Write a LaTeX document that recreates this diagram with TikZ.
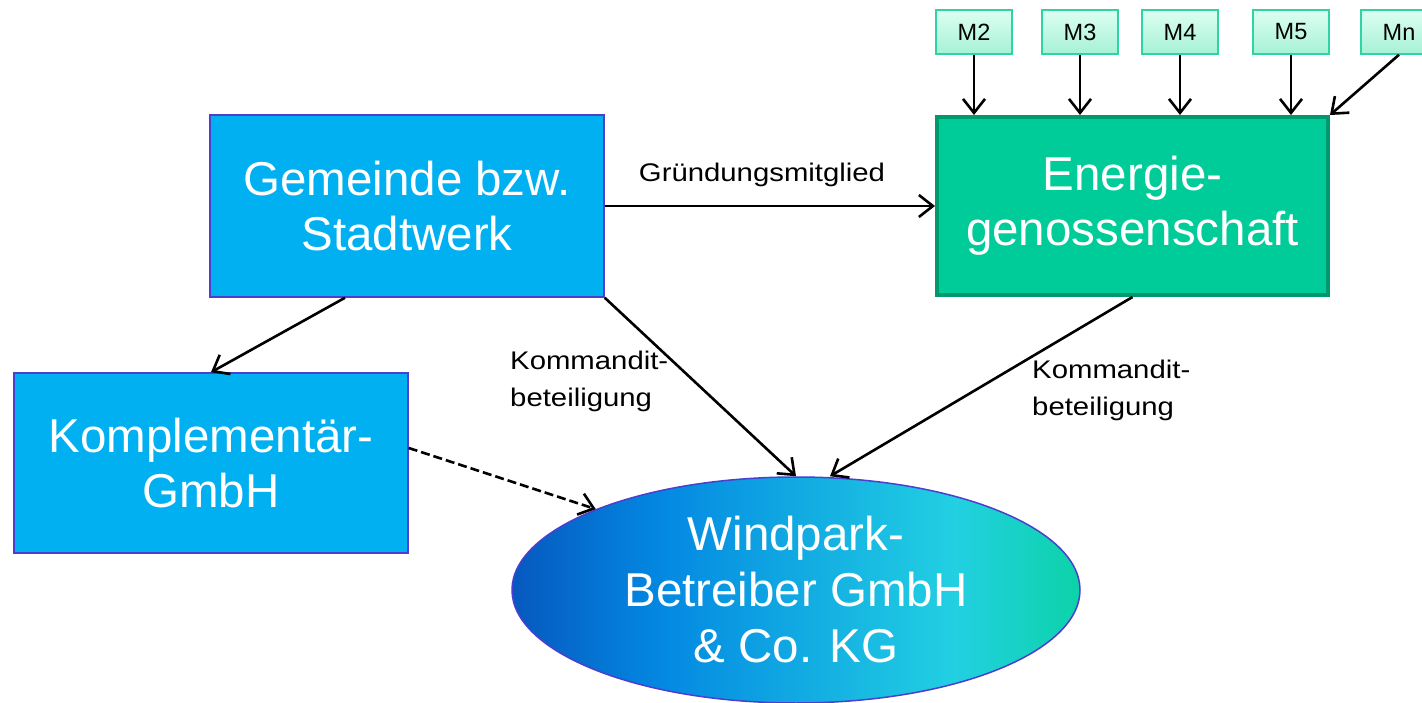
\documentclass[tikz,border=0pt]{standalone}
\usepackage{fontspec}
\setmainfont{Liberation Sans}
\newfontfamily\breitschrift[FakeStretch=1.15]{Liberation Sans}
\usetikzlibrary{arrows.meta,shapes.geometric}
\definecolor{kastenblau}{HTML}{00B0F0}
\definecolor{randblau}{HTML}{4A3FCF}
\definecolor{egfill}{HTML}{00CC99}
\definecolor{egrand}{HTML}{00996E}
\definecolor{mrand}{HTML}{2FD4A4}
\definecolor{moben}{HTML}{DDFFF1}
\definecolor{munten}{HTML}{A6F1D6}
\definecolor{wpA}{HTML}{0658BE}
\definecolor{wpB}{HTML}{0388E2}
\definecolor{wpC}{HTML}{22D0E2}
\definecolor{wpD}{HTML}{0CD3A8}
\pgfdeclarehorizontalshading{windpark}{100bp}{color(0bp)=(wpA); color(25bp)=(wpA); color(38bp)=(wpB); color(64bp)=(wpC); color(75bp)=(wpD); color(100bp)=(wpD)}
\tikzset{
  firma/.style={draw=randblau, line width=1.5pt, fill=kastenblau, text=white, minimum width=394pt, minimum height=182pt, align=center, font=\fontsize{47.5}{55}\selectfont},
  genossen/.style={firma, draw=egrand, line width=4pt, fill=egfill, minimum width=391pt, minimum height=178pt},
  mitglied/.style={draw=mrand, line width=1.5pt, top color=moben, bottom color=munten, minimum width=76pt, minimum height=44pt, inner sep=0pt, font=\fontsize{23.5}{26}\selectfont},
  pfeil/.style={-{Straight Barb[length=14pt,width=22pt]}, line width=2.6pt},
  beschr/.style={font=\breitschrift\fontsize{25.5}{37}\selectfont, align=left, inner sep=0pt}
}
\begin{document}
\begin{tikzpicture}[x=1pt,y=-1pt]
\useasboundingbox (0,0) rectangle (1422,703);
\node[firma] (gemeinde) at (407,206) {Gemeinde bzw.\\Stadtwerk};
\node[genossen] (energie) at (1132.5,206) {Energie-\\genossenschaft};
\node[firma, minimum height=180pt] (kompl) at (211,463) {Komplement\"ar-\\GmbH};
\node[ellipse, draw=randblau, line width=1.5pt, shading=windpark, minimum width=568pt, minimum height=226pt, text=white, align=center, font=\fontsize{47.5}{56}\selectfont, inner sep=0pt] (wind) at (796,590) {Windpark-\\Betreiber GmbH\\\& Co. KG};
\node[mitglied] (m2) at (974,32) {M2};
\node[mitglied] (m3) at (1080,32) {M3};
\node[mitglied] (m4) at (1180,32) {M4};
\node[mitglied] (m5) at (1291,32) {M5};
\node[mitglied] (mn) at (1399,32) {Mn};
\foreach \m in {m2,m3,m4,m5}
  \draw[pfeil] (\m.south) -- (\m.south |- energie.north);
\draw[pfeil] (mn.south) -- (energie.north east);
\draw[pfeil] (gemeinde.east) -- (energie.west);
\node[beschr] (gruend) at (762,175) {Gr\"undungsmitglied};
\draw[pfeil] ([xshift=-62pt]gemeinde.south) -- (kompl.north);
\draw[pfeil] (gemeinde.south east) -- (wind.north);
\draw[pfeil] (energie.south) -- ([xshift=34pt]wind.north);
\node[beschr, anchor=west] (komm1) at (510,381) {Kommandit-\\beteiligung};
\node[beschr, anchor=west] (komm2) at (1032,390) {Kommandit-\\beteiligung};
\draw[pfeil, dash pattern=on 9pt off 4pt] ([yshift=15pt]kompl.east) -- (wind.158);
\end{tikzpicture}
\end{document}
